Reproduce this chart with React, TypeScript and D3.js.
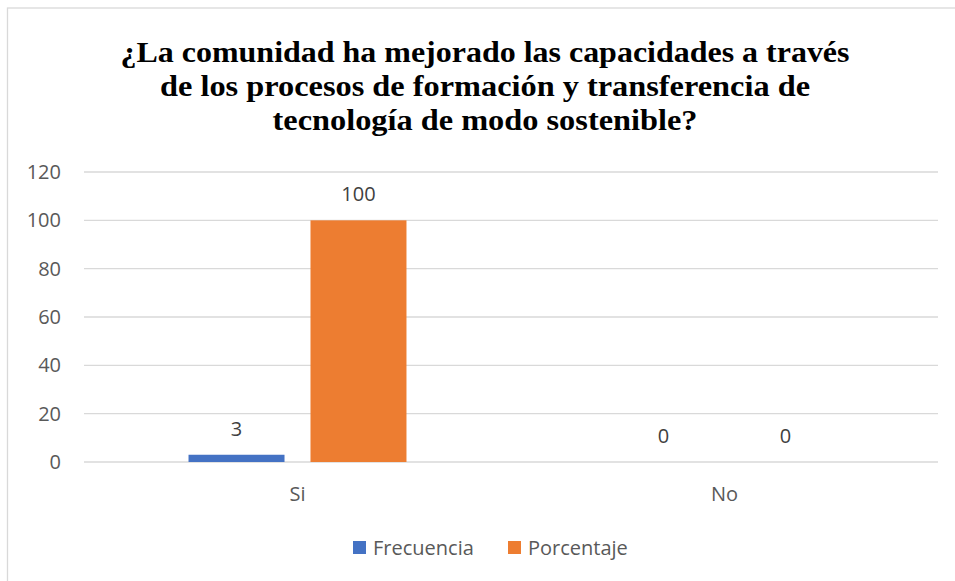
import * as d3 from 'd3';

const categories = ['Si', 'No'];
const seriesNames = ['Frecuencia', 'Porcentaje'];
const frecuencia = [3, 0];
const porcentaje = [100, 0];
const yTicks = [0, 20, 40, 60, 80, 100, 120];
const titleLines = [
  '¿La comunidad ha mejorado las capacidades a través',
  'de los procesos de formación y transferencia de',
  'tecnología de modo sostenible?',
];

const W = 955;
const H = 581;
const colors = ['#4472C4', '#ED7D31'];
const font = "'Open Sans'";
const titleFont = "'Liberation Serif'";

export default function App() {
  const plot = { left: 84, right: 938, top: 172, bottom: 462 };
  const values = [frecuencia, porcentaje];

  const x0 = d3.scaleBand<string>().domain(categories).range([plot.left, plot.right]);
  const x1 = d3
    .scaleBand<string>()
    .domain(seriesNames)
    .range([0, x0.bandwidth()])
    .paddingInner(0.213)
    .paddingOuter(0.857);
  const y = d3.scaleLinear().domain([0, 120]).range([plot.bottom, plot.top]);

  const titleWidths = [729, 650, 425];
  const titleBaselines = [62, 96, 130];

  return (
    <svg width={W} height={H} style={{ position: 'absolute', left: 0, top: 0, background: '#fff' }}>
      {/* chart frame */}
      <rect x={7.5} y={8} width={W} height={H} fill="#fff" stroke="#d9d9d9" strokeWidth={1.3} />

      {titleLines.map((t, i) => (
        <text
          key={i}
          x={485}
          y={titleBaselines[i]}
          textAnchor="middle"
          style={{ fontFamily: titleFont, fontWeight: 700, fontSize: 30 }}
          fill="#000"
          textLength={titleWidths[i]}
          lengthAdjust="spacingAndGlyphs"
        >
          {t}
        </text>
      ))}

      {/* gridlines + y labels */}
      {yTicks.map((t) => (
        <g key={t}>
          <line x1={plot.left} x2={plot.right} y1={y(t)} y2={y(t)} stroke="#d9d9d9" strokeWidth={1.4} />
          <text
            x={61}
            y={y(t)}
            dy="0.35em"
            textAnchor="end"
            style={{ fontFamily: font, fontSize: 20 }}
            fill="#595959"
          >
            {t}
          </text>
        </g>
      ))}

      {/* bars */}
      {categories.map((c, ci) => (
        <g key={c} transform={`translate(${x0(c)},0)`}>
          {seriesNames.map((s, si) => {
            const v = values[si][ci];
            const bx = x1(s)!;
            return (
              <g key={s}>
                <rect
                  x={bx}
                  y={y(v)}
                  width={x1.bandwidth()}
                  height={plot.bottom - y(v)}
                  fill={colors[si]}
                />
                <text
                  x={bx + x1.bandwidth() / 2}
                  y={y(v) - 26}
                  dy="0.35em"
                  textAnchor="middle"
                  style={{ fontFamily: font, fontSize: 20 }}
                  fill="#404040"
                >
                  {v}
                </text>
              </g>
            );
          })}
          <text
            x={x0.bandwidth() / 2}
            y={494}
            dy="0.35em"
            textAnchor="middle"
            style={{ fontFamily: font, fontSize: 20 }}
            fill="#595959"
          >
            {c}
          </text>
        </g>
      ))}

      {/* legend */}
      {seriesNames.map((s, i) => {
        const lx = [353, 508][i];
        return (
          <g key={s}>
            <rect x={lx} y={541} width={13} height={13} fill={colors[i]} />
            <text
              x={lx + 20}
              y={548}
              dy="0.35em"
              style={{ fontFamily: font, fontSize: 20 }}
              fill="#595959"
            >
              {s}
            </text>
          </g>
        );
      })}
    </svg>
  );
}
